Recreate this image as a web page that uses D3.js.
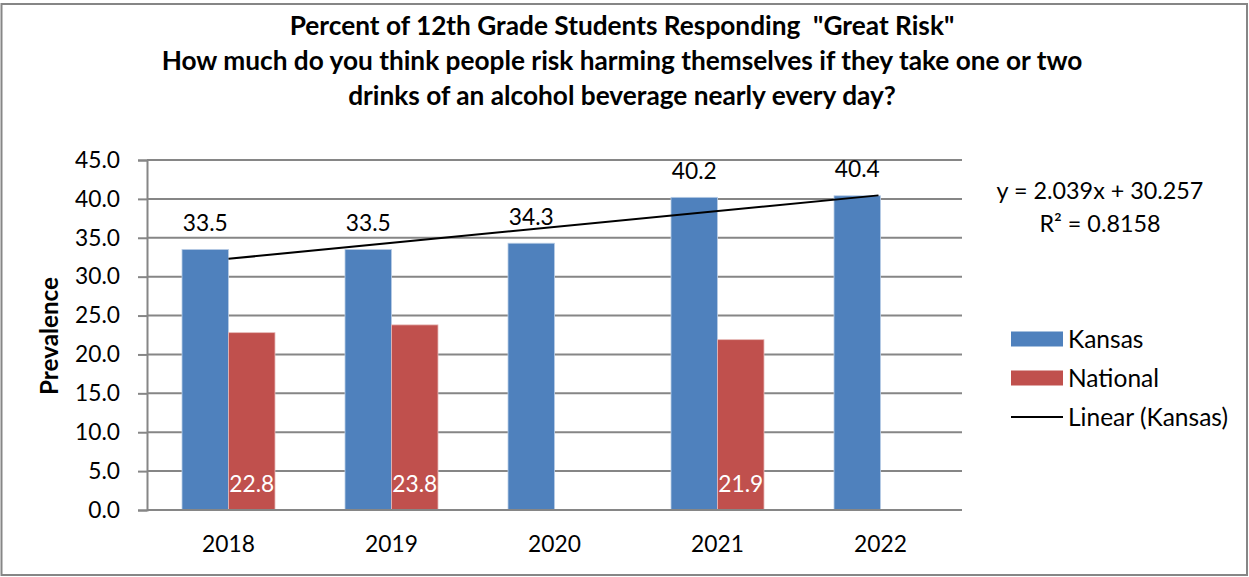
<!DOCTYPE html>
<html>
<head>
<meta charset="utf-8">
<script src="https://cdn.jsdelivr.net/npm/d3@7"></script>
<style>
  html, body { margin: 0; padding: 0; background: #fff; }
  svg { display: block; }
  text { font-family: Lato, "Open Sans", sans-serif; fill: #000; }
</style>
</head>
<body>
<svg id="chart" width="1249" height="577"></svg>
<script>
// ---- data ----
const years = ["2018", "2019", "2020", "2021", "2022"];
const seriesNames = ["Kansas", "National"];
const kansas = [33.5, 33.5, 34.3, 40.2, 40.4];
const national = [22.8, 23.8, null, 21.9, null];
const yTickValues = [0, 5, 10, 15, 20, 25, 30, 35, 40, 45];
const trendCoef = [2.039, 30.257]; // slope, intercept (x = 1..5)
const trendLabel = ["y = 2.039x + 30.257", "R² = 0.8158"];
const titleLines = [
  "Percent of 12th Grade Students Responding  \"Great Risk\"",
  "How much do you think people risk harming themselves if they take one or two",
  "drinks of an alcohol beverage nearly every day?"
];
const yAxisTitle = "Prevalence";
const legendItems = ["Kansas", "National", "Linear (Kansas)"];

// ---- style ----
const colors = { Kansas: "#4F81BD", National: "#C0504D" };
const gridColor = "#868686";

const svg = d3.select("#chart");

function fitSize(textSel, base, targetW) {
  textSel.style("font-size", base + "px");
  const w = textSel.node().getComputedTextLength();
  return base * targetW / w;
}

// border
svg.append("rect").attr("x", 1.5).attr("y", 4).attr("width", 1245.5).attr("height", 571)
  .attr("fill", "#fff").attr("stroke", gridColor).attr("stroke-width", 2);

// scales
const plot = { left: 147, right: 962, top: 160, bottom: 510 };
const x0 = d3.scaleBand().domain(years).range([plot.left, plot.right]).padding(0);
const x1 = d3.scaleBand().domain(seriesNames).range([0, x0.bandwidth()]).paddingInner(0).paddingOuter(0.753);
const y = d3.scaleLinear().domain([0, 45]).range([plot.bottom, plot.top]);

// label font size from tick label width
const probe = svg.append("text").text("45.0");
const labelSize = fitSize(probe, 20, 45);
probe.text("Linear (Kansas)");
const legendSize = fitSize(probe, 20, 160);
probe.text("y = 2.039x + 30.257");
const eqSize = fitSize(probe, 20, 207);
probe.remove();

// gridlines + y axis
const yAxis = d3.axisLeft(y).tickValues(yTickValues).tickFormat(d3.format(".1f")).tickSize(9).tickPadding(18);
const yg = svg.append("g").attr("transform", `translate(${plot.left},0)`).call(yAxis);
yg.select(".domain").attr("stroke", gridColor).attr("stroke-width", 2);
yg.selectAll(".tick line").attr("stroke", gridColor).attr("stroke-width", 2);
yg.selectAll(".tick text").style("font-size", labelSize + "px").style("font-family", "Lato, sans-serif").attr("fill", "#000");

svg.append("g").selectAll("line").data(yTickValues).join("line")
  .attr("x1", plot.left).attr("x2", plot.right)
  .attr("y1", d => y(d)).attr("y2", d => y(d))
  .attr("stroke", gridColor).attr("stroke-width", 2);

// x axis
const xAxis = d3.axisBottom(x0).tickSize(0).tickPadding(26);
const xg = svg.append("g").attr("transform", `translate(0,${plot.bottom})`).call(xAxis);
xg.select(".domain").remove();
xg.selectAll(".tick text").style("font-size", labelSize + "px").style("font-family", "Lato, sans-serif").attr("fill", "#000");

// bars
const rows = years.map((yr, i) => ({ year: yr, Kansas: kansas[i], National: national[i] }));
const groups = svg.append("g").selectAll("g").data(rows).join("g")
  .attr("transform", d => `translate(${x0(d.year)},0)`);
groups.selectAll("rect")
  .data(d => seriesNames.filter(s => d[s] != null).map(s => ({ key: s, value: d[s] })))
  .join("rect")
  .attr("x", d => x1(d.key)).attr("width", x1.bandwidth())
  .attr("y", d => y(d.value)).attr("height", d => y(0) - y(d.value))
  .attr("fill", d => colors[d.key])
  .attr("stroke", d => d.key === "Kansas" ? "#b9cde5" : "#e6b9b8").attr("stroke-width", 0.8);

// re-draw x-axis line on top
svg.append("line").attr("x1", plot.left).attr("x2", plot.right)
  .attr("y1", plot.bottom).attr("y2", plot.bottom)
  .attr("stroke", gridColor).attr("stroke-width", 2);

// data labels
groups.selectAll("text.lbl")
  .data(d => seriesNames.filter(s => d[s] != null).map(s => ({ key: s, value: d[s] })))
  .join("text").attr("class", "lbl")
  .attr("x", d => x1(d.key) + x1.bandwidth() / 2)
  .attr("y", d => d.key === "Kansas" ? y(d.value) - 18.5 : plot.bottom - 18)
  .attr("text-anchor", "middle")
  .style("font-size", labelSize + "px")
  .style("fill", d => d.key === "Kansas" ? "#000" : "#fff")
  .text(d => d3.format(".1f")(d.value));

// trend line
const trendX = [1, years.length];
const trendPts = trendX.map(t => [x0(years[t - 1]) + x0.bandwidth() / 2 - (t === years.length ? 2 : 0), y(trendCoef[0] * t + trendCoef[1])]);
svg.append("path").attr("d", d3.line()(trendPts)).attr("stroke", "#000").attr("stroke-width", 2).attr("fill", "none");

// trend equation
svg.append("g").selectAll("text").data(trendLabel).join("text")
  .attr("x", 1100).attr("y", (d, i) => 199 + i * 33)
  .attr("text-anchor", "middle").style("font-size", eqSize + "px").text(d => d);

// legend
const lg = svg.append("g");
const legY = [339, 378, 417];
legendItems.forEach((name, i) => {
  if (i < 2) {
    lg.append("rect").attr("x", 1011).attr("y", legY[i] - 7.5).attr("width", 52).attr("height", 15).attr("fill", colors[name]);
  } else {
    lg.append("line").attr("x1", 1011).attr("x2", 1063).attr("y1", legY[i]).attr("y2", legY[i]).attr("stroke", "#000").attr("stroke-width", 2);
  }
  lg.append("text").attr("x", 1068).attr("y", legY[i]).attr("dy", "0.35em")
    .style("font-size", legendSize + "px").text(name);
});

// y axis title
const yt = svg.append("text").attr("transform", "translate(58,336) rotate(-90)")
  .attr("text-anchor", "middle").style("font-weight", "bold").text(yAxisTitle);
yt.style("font-size", fitSize(yt, 20, 118) + "px");

// title
const t2 = svg.append("text").text(titleLines[1]).style("font-weight", "bold");
const titleSize = fitSize(t2, 20, 921);
t2.remove();
svg.append("g").selectAll("text").data(titleLines).join("text")
  .attr("x", 622).attr("y", (d, i) => 35 + i * 35)
  .attr("text-anchor", "middle").style("font-weight", "bold")
  .style("font-size", titleSize + "px")
  .style("white-space", "pre")
  .text(d => d);
</script>
</body>
</html>
